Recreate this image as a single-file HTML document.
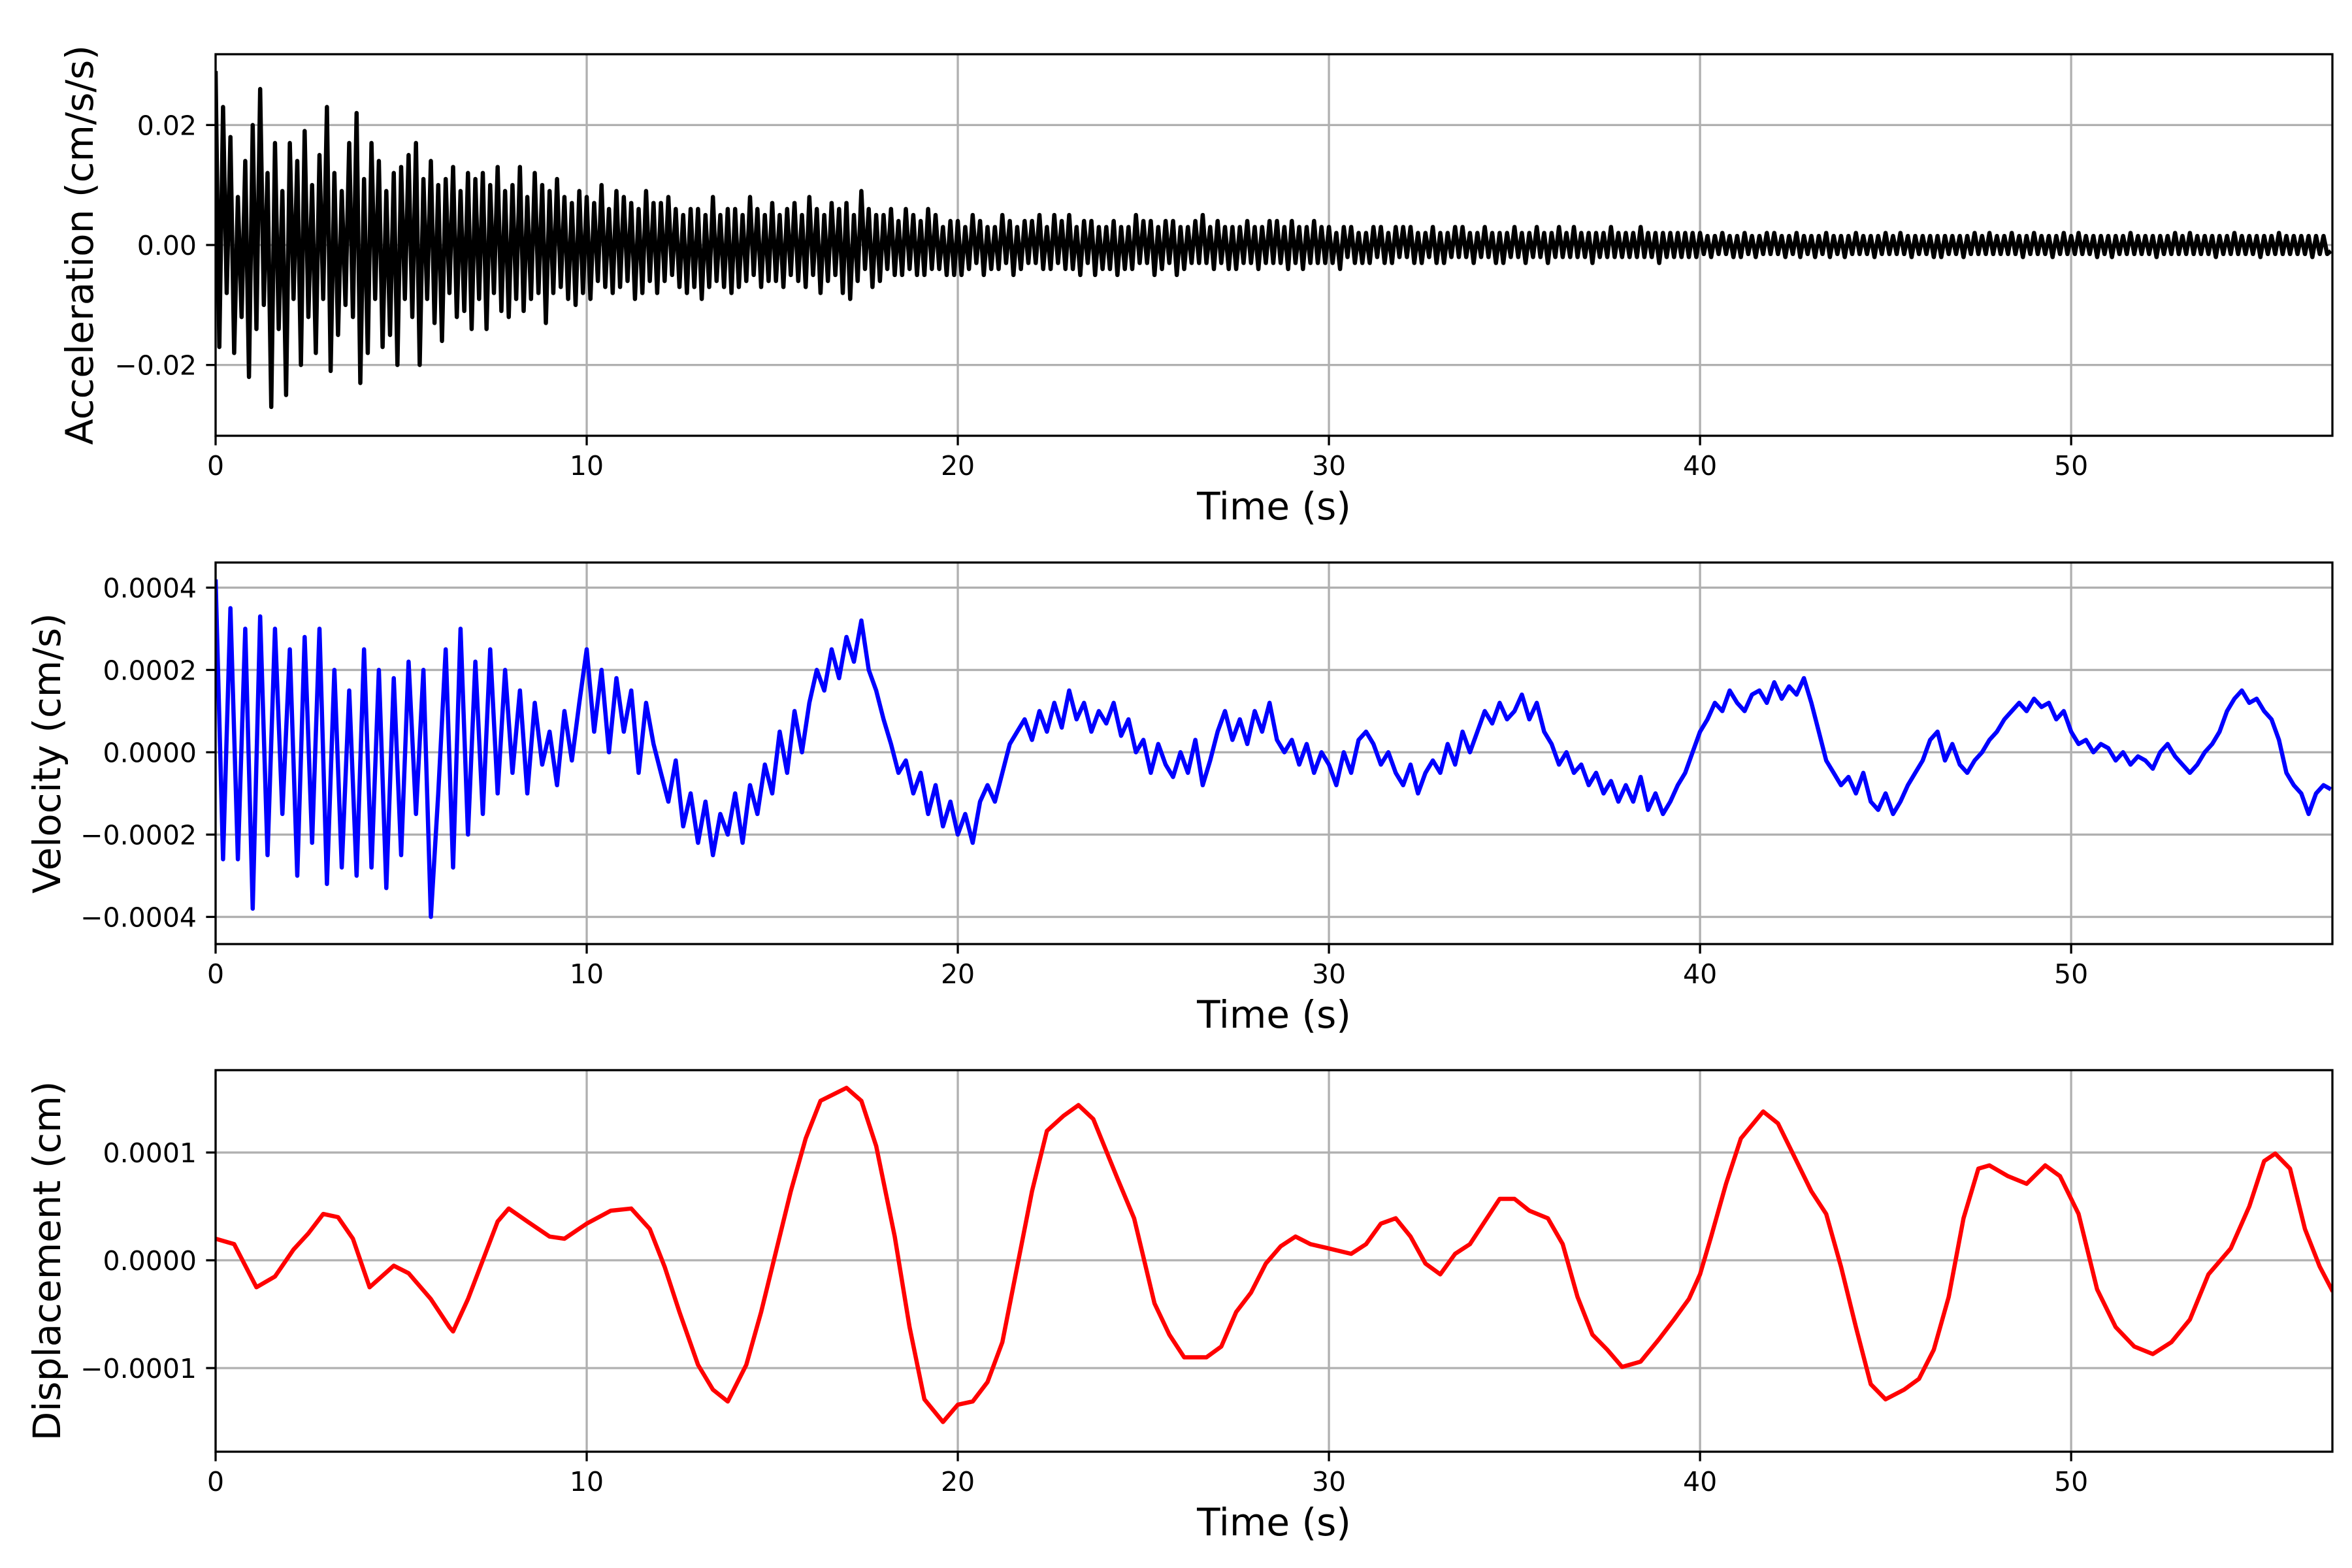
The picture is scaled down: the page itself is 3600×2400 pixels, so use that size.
<!DOCTYPE html>
<html><head><meta charset="utf-8"><style>
html,body{margin:0;padding:0;background:#fff}
svg{display:block;font-family:"DejaVu Sans","Liberation Sans",sans-serif}
</style></head><body>
<svg id="fig" width="3600" height="2400" viewBox="0 0 3600 2400" xmlns="http://www.w3.org/2000/svg">
<rect width="3600" height="2400" fill="#fff"/>
</svg>
<script>
// ---- data ----
const accDt = 0.1; // seconds per sample
const accValues = [ // units 1e-3 cm/s/s
29,-17,23,-8,18,-18,8,-12,14,-22,
20,-14,26,-10,12,-27,17,-14,9,-25,
17,-9,14,-20,19,-12,10,-18,15,-9,
23,-21,12,-15,9,-10,17,-12,22,-23,
11,-18,17,-9,14,-17,9,-15,12,-20,
13,-9,15,-12,17,-20,11,-9,14,-13,
10,-16,11,-8,13,-12,9,-11,12,-14,
11,-9,12,-14,10,-8,13,-11,9,-12,
10,-9,13,-11,8,-9,12,-8,10,-13,
9,-8,11,-7,8,-9,7,-10,9,-8,
8,-9,7,-6,10,-7,6,-8,9,-7,
8,-6,7,-9,6,-8,9,-6,7,-8,
7,-6,8,-5,6,-7,5,-8,6,-7,
6,-9,5,-7,8,-6,5,-7,6,-8,
6,-7,5,-6,8,-5,6,-7,5,-6,
7,-6,5,-7,6,-5,7,-6,5,-7,
8,-5,6,-8,5,-6,7,-5,6,-8,
7,-9,5,-6,9,-4,6,-7,5,-6,
5,-4,6,-5,4,-5,6,-4,5,-5,
4,-5,6,-4,5,-4,3,-5,4,-5,
4,-5,3,-4,5,-3,4,-5,3,-4,
3,-4,5,-3,4,-5,3,-4,4,-3,
4,-3,5,-4,3,-4,5,-3,4,-4,
5,-4,3,-5,4,-3,4,-5,3,-4,
3,-4,4,-5,3,-4,3,-4,5,-3,
4,-3,4,-5,3,-4,4,-3,4,-5,
3,-4,3,-3,4,-3,5,-3,3,-4,
4,-3,3,-4,3,-4,3,-3,4,-3,
3,-4,3,-3,4,-3,4,-3,3,-4,
4,-3,3,-4,3,-3,4,-3,3,-3,
3,-3,2,-4,3,-2,3,-3,2,-3,
2,-3,3,-2,3,-3,2,-3,3,-2,
3,-2,3,-3,2,-3,2,-2,3,-3,
2,-3,2,-2,3,-2,3,-2,2,-3,
2,-2,3,-2,2,-3,2,-3,2,-2,
3,-2,2,-3,2,-2,3,-2,2,-3,
2,-2,3,-2,2,-2,3,-2,2,-2,
2,-3,2,-2,2,-2,3,-2,2,-2,
2,-2,2,-2,3,-2,2,-2,2,-3,
2,-2,2,-2,2,-2,2,-2,2,-2,
2,-1.5,1.5,-2,1.5,-1.5,2,-1.5,1.5,-2,
1.5,-2,2,-1.5,1.5,-2,1.5,-1.5,2,-1.5,
2,-1.5,1.5,-2,1.5,-1.5,2,-2,1.5,-1.5,
1.5,-2,1.5,-1.5,2,-2,1.5,-1.5,1.5,-2,
1.5,-1.5,2,-1.5,1.5,-1.5,1.5,-2,1.5,-1.5,
2,-1.5,1.5,-1.5,2,-1.5,1.5,-2,1.5,-1.5,
1.5,-1.5,1.5,-2,1.5,-2,1.5,-1.5,1.5,-1.5,
1.5,-2,1.5,-1.5,2,-1.5,1.5,-1.5,2,-1.5,
1.5,-1.5,1.5,-1.5,2,-1.5,1.5,-2,1.5,-1.5,
2,-1.5,1.5,-1.5,1.5,-2,1.5,-1.5,2,-1.5,
1.5,-1.5,2,-1.5,1.5,-1.5,1.5,-2,1.5,-1.5,
1.5,-2,1.5,-1.5,1.5,-1.5,2,-1.5,1.5,-1.5,
1.5,-1.5,1.5,-2,1.5,-1.5,1.5,-1.5,2,-1.5,
1.5,-1.5,2,-1.5,1.5,-1.5,1.5,-1.5,1.5,-2,
1.5,-1.5,1.5,-1.5,2,-1.5,1.5,-1.5,1.5,-1.5,
1.5,-2,1.5,-1.5,1.5,-1.5,2,-1.5,1.5,-1.5,
1.5,-1.5,1.5,-1.5,1.5,-2,1.5,-1.5,1.5,-1.5,
-1
];
const velDt = 0.2;
const velValues = [ // units 1e-5 cm/s
42,-26,35,-26,30, -38,33,-25,30,-15, 25,-30,28,-22,30, -32,20,-28,15,-30, 25,-28,20,-33,18,
-25,22,-15,20,-40, -10,25,-28,30,-20, 22,-15,25,-10,20, -5,15,-10,12,-3, 5,-8,10,-2,12,
25,5,20,0,18, 5,15,-5,12,2, -5,-12,-2,-18,-10, -22,-12,-25,-15,-20, -10,-22,-8,-15,-3,
-10,5,-5,10,0, 12,20,15,25,18, 28,22,32,20,15, 8,2,-5,-2,-10, -5,-15,-8,-18,-12,
-20,-15,-22,-12,-8, -12,-5,2,5,8, 3,10,5,12,6, 15,8,12,5,10, 7,12,4,8,0,
3,-5,2,-3,-6, 0,-5,3,-8,-2, 5,10,3,8,2, 10,5,12,3,0, 3,-3,2,-5,0,
-3,-8,0,-5,3, 5,2,-3,0,-5, -8,-3,-10,-5,-2, -5,2,-3,5,0, 5,10,7,12,8,
10,14,8,12,5, 2,-3,0,-5,-3, -8,-5,-10,-7,-12, -8,-12,-6,-14,-10, -15,-12,-8,-5,0,
5,8,12,10,15, 12,10,14,15,12, 17,13,16,14,18, 12,5,-2,-5,-8, -6,-10,-5,-12,-14,
-10,-15,-12,-8,-5, -2,3,5,-2,2, -3,-5,-2,0,3, 5,8,10,12,10, 13,11,12,8,10,
5,2,3,0,2, 1,-2,0,-3,-1, -2,-4,0,2,-1, -3,-5,-3,0,2, 5,10,13,15,12,
13,10,8,3,-5, -8,-10,-15,-10,-8, -9
];
const dispTimes = [0,0.5,1.1,1.6,2.1,2.5,2.9,3.3,3.7,4.15,4.8,5.2,5.8,6.3,6.4,6.8,7.2,7.6,7.9,8.4,9.0,9.4,10,10.65,11.2,11.7,12.1,12.5,13.0,13.4,13.8,14.3,14.7,15.1,15.5,15.9,16.3,17.0,17.4,17.8,18.3,18.7,19.1,19.6,20,20.4,20.8,21.2,21.6,22.0,22.4,22.85,23.25,23.65,24.3,24.75,25.3,25.7,26.1,26.7,27.1,27.5,27.9,28.3,28.7,29.1,29.5,30,30.6,31,31.4,31.8,32.2,32.6,33,33.4,33.8,34.2,34.6,35.0,35.4,35.9,36.3,36.7,37.1,37.5,37.9,38.4,38.9,39.3,39.7,40.0,40.3,40.7,41.1,41.7,42.1,42.6,43.0,43.4,43.8,44.2,44.6,45.0,45.5,45.9,46.3,46.7,47.1,47.5,47.8,48.3,48.8,49.3,49.7,50.2,50.7,51.2,51.7,52.2,52.7,53.2,53.7,54.3,54.8,55.2,55.5,55.9,56.3,56.7,57.05];
const dispValues = [2,1.5,-2.5,-1.5,1,2.5,4.3,4,2,-2.5,-0.5,-1.2,-3.6,-6.2,-6.6,-3.6,0,3.6,4.8,3.6,2.2,2,3.4,4.6,4.8,2.9,-0.6,-4.8,-9.7,-12,-13.1,-9.7,-4.8,0.8,6.4,11.3,14.8,16,14.8,10.6,2.2,-6.2,-12.9,-15,-13.4,-13.1,-11.3,-7.6,-0.6,6.4,12,13.4,14.4,13.1,7.6,3.9,-4,-6.9,-9,-9,-8,-4.8,-3,-0.3,1.3,2.2,1.5,1.1,0.6,1.5,3.4,3.9,2.2,-0.3,-1.3,0.6,1.5,3.6,5.7,5.7,4.6,3.9,1.5,-3.4,-6.9,-8.3,-9.9,-9.4,-7.3,-5.5,-3.6,-1.3,2.2,7.1,11.3,13.8,12.7,9.2,6.4,4.3,-0.6,-6.2,-11.5,-12.9,-12,-11,-8.3,-3.4,3.9,8.5,8.8,7.8,7.1,8.8,7.8,4.3,-2.7,-6.2,-8,-8.7,-7.6,-5.5,-1.3,1.1,5,9.2,9.9,8.5,2.9,-0.6,-2.9]; // units 1e-5 cm
const xTicks = [0,10,20,30,40,50];
const accTicks = [-0.02,0,0.02];
const accTickLabels = ["\u22120.02","0.00","0.02"];
const velTicks = [-0.0004,-0.0002,0,0.0002,0.0004];
const velTickLabels = ["\u22120.0004","\u22120.0002","0.0000","0.0002","0.0004"];
const dispTicks = [-0.0001,0,0.0001];
const dispTickLabels = ["\u22120.0001","0.0000","0.0001"];

// ---- layout ----
const NS = "http://www.w3.org/2000/svg";
const svg = document.getElementById('fig');
const L = 330, R = 3570, H = 584;
const XMIN = 0, XMAX = 57.04;
function xScale(t){ return L + (t - XMIN) / (XMAX - XMIN) * (R - L); }
function mk(tag, attrs, parent){
  const e = document.createElementNS(NS, tag);
  for (const k in attrs) e.setAttribute(k, attrs[k]);
  (parent || svg).appendChild(e);
  return e;
}

const panels = [
  {key:'acceleration', top:83, ymin:-0.0318, ymax:0.0318, color:'#000000', label:'Acceleration (cm/s/s)', labelX:122,
   ticks:accTicks, tickLabels:accTickLabels,
   times: accValues.map((v,i)=>i*accDt), vals: accValues.map(v=>v*1e-3)},
  {key:'velocity', top:861, ymin:-0.000466, ymax:0.000461, color:'#0000ff', label:'Velocity (cm/s)', labelX:72,
   ticks:velTicks, tickLabels:velTickLabels,
   times: velValues.map((v,i)=>i*velDt), vals: velValues.map(v=>v*1e-5)},
  {key:'displacement', top:1638, ymin:-0.0001776, ymax:0.0001764, color:'#ff0000', label:'Displacement (cm)', labelX:72,
   ticks:dispTicks, tickLabels:dispTickLabels,
   times: dispTimes, vals: dispValues.map(v=>v*1e-5)}
];

panels.forEach((p, idx) => {
  const top = p.top, bot = top + H;
  const yScale = v => bot - (v - p.ymin) / (p.ymax - p.ymin) * H;
  const g = mk('g', {});
  
  

  const clipId = 'clip' + idx;
  const cp = mk('clipPath', {id: clipId}, g);
  mk('rect', {x:L, y:top, width:R-L, height:H}, cp);

  xTicks.forEach(t => {
    const ln = mk('line', {x1:xScale(t), x2:xScale(t), y1:top, y2:bot, stroke:'#b0b0b0', 'stroke-width':3.3}, g);
    
    
  });
  p.ticks.forEach(v => {
    const ln = mk('line', {x1:L, x2:R, y1:yScale(v), y2:yScale(v), stroke:'#b0b0b0', 'stroke-width':3.3}, g);
    
    
  });

  let d = '';
  p.times.forEach((t, i) => { d += (i ? 'L' : 'M') + xScale(t).toFixed(1) + ' ' + yScale(p.vals[i]).toFixed(1); });
  const path = mk('path', {d:d, fill:'none', stroke:p.color, 'stroke-width':6.5, 'stroke-linejoin':'round', 'clip-path':'url(#'+clipId+')'}, g);
  
  

  const fr = mk('rect', {x:L, y:top, width:R-L, height:H, fill:'none', stroke:'#000', 'stroke-width':3.3}, g);
  
  

  xTicks.forEach(t => {
    mk('line', {x1:xScale(t), x2:xScale(t), y1:bot, y2:bot+14.6, stroke:'#000', 'stroke-width':3.3}, g);
    const tx = mk('text', {x:xScale(t), y:bot+60, 'text-anchor':'middle', 'font-size':41, fill:'#000'}, g);
    tx.textContent = String(t);
    
    
  });
  p.ticks.forEach((v, i) => {
    mk('line', {x1:L-14.6, x2:L, y1:yScale(v), y2:yScale(v), stroke:'#000', 'stroke-width':3.3}, g);
    const ty = mk('text', {x:L-29, y:yScale(v)+15, 'text-anchor':'end', 'font-size':41, fill:'#000'}, g);
    ty.textContent = p.tickLabels[i];
    
    
  });
  const xl = mk('text', {x:(L+R)/2, y:bot+128, 'text-anchor':'middle', 'font-size':58, fill:'#000'}, g);
  xl.textContent = 'Time (s)';
  
  
  const cy = top + H/2;
  const yl = mk('text', {x:p.labelX, y:cy, 'text-anchor':'middle', 'dominant-baseline':'central', 'font-size':58, fill:'#000', transform:'rotate(-90 '+p.labelX+' '+cy+')'}, g);
  yl.textContent = p.label;
  
  
});
</script>
</body></html>
